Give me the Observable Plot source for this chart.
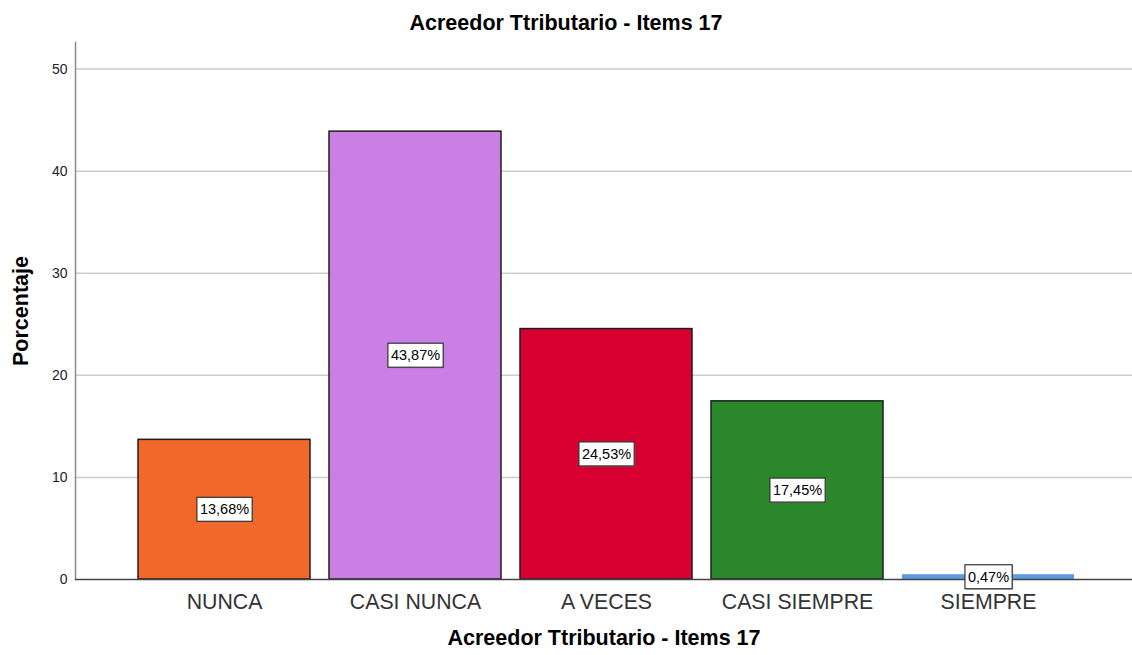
<!DOCTYPE html>
<html>
<head>
<meta charset="utf-8">
<script src="https://cdn.jsdelivr.net/npm/d3@7"></script>
<script src="https://cdn.jsdelivr.net/npm/@observablehq/plot@0.6"></script>
<style>
  html, body { margin: 0; padding: 0; background: #fff; }
  body { width: 1132px; height: 655px; overflow: hidden; font-family: "Liberation Sans", Arial, sans-serif; }
  #title { height: 40px; box-sizing: border-box; padding-top: 13px; line-height: 21px; font-size: 21.5px; font-weight: bold; text-align: center; color: #000; }
</style>
</head>
<body>
<div id="title"></div>
<div id="chart"></div>
<script>
const chartTitle = "Acreedor Ttributario - Items 17";
const xLabel = "Acreedor Ttributario - Items 17";
const yLabel = "Porcentaje";
const categories = ["NUNCA", "CASI NUNCA", "A VECES", "CASI SIEMPRE", "SIEMPRE"];
const values = [13.68, 43.87, 24.53, 17.45, 0.47];
const valueLabels = ["13,68%", "43,87%", "24,53%", "17,45%", "0,47%"];
const colors = ["#F2682B", "#C97FE3", "#D70030", "#2A872B", "#5B9BE3"];
const yTicks = [0, 10, 20, 30, 40, 50];

document.getElementById("title").textContent = chartTitle;

const data = categories.map((c, i) => ({cat: c, value: values[i], label: valueLabels[i]}));

const plot = Plot.plot({
  width: 1132,
  height: 615,
  marginTop: 2,
  marginLeft: 75,
  marginRight: 0,
  marginBottom: 76,
  style: {fontFamily: "'Liberation Sans', Arial, sans-serif", background: "#fff"},
  x: {domain: categories, paddingInner: 0.1, paddingOuter: 0.317, align: 0.52, label: null},
  y: {domain: [0, 52.6], label: null},
  color: {domain: categories, range: colors},
  marks: [
    Plot.gridY(yTicks.filter(t => t > 0), {stroke: "#cccccc", strokeOpacity: 1, strokeWidth: 1.5}),
    Plot.frame({anchor: "left", stroke: "#8c8c8c", strokeWidth: 1.5}),
    Plot.barY(data, {x: "cat", y: "value", fill: "cat", stroke: d => d.value < 1 ? "none" : "#1e1e1e", strokeWidth: 1.5}),
    Plot.ruleY([0], {stroke: "#444", strokeWidth: 1.5}),
    Plot.axisY({ticks: yTicks, tickSize: 0, tickPadding: 8, fontSize: 14, fill: "#222", label: null}),
    Plot.axisX({tickSize: 0, tickPadding: 14, fontSize: 21.3, fill: "#333", label: null}),
    Plot.text(data, {x: "cat", y: d => d.value / 2, text: "label", fontSize: 14.5, fill: "#000", className: "vlabel"}),
    Plot.text([xLabel], {frameAnchor: "bottom", dy: 65.5, fontSize: 21.5, fontWeight: "bold", fill: "#000"}),
    Plot.text([yLabel], {frameAnchor: "left", rotate: -90, dx: -54, textAnchor: "middle", fontSize: 21.5, fontWeight: "bold", fill: "#000"})
  ]
});
document.getElementById("chart").appendChild(plot);

// white label boxes behind value labels
const svgNS = "http://www.w3.org/2000/svg";
plot.querySelectorAll("g.vlabel text, .vlabel text").forEach(t => {
  const bb = t.getBBox();
  const tr = t.getAttribute("transform");
  const padX = 3, padY = 4;
  const sh = document.createElementNS(svgNS, "rect");
  sh.setAttribute("x", bb.x - padX + 1);
  sh.setAttribute("y", bb.y - padY + 1);
  sh.setAttribute("width", bb.width + 2 * padX);
  sh.setAttribute("height", bb.height + 2 * padY);
  sh.setAttribute("fill", "#888");
  sh.setAttribute("fill-opacity", "0.6");
  const r = document.createElementNS(svgNS, "rect");
  r.setAttribute("x", bb.x - padX);
  r.setAttribute("y", bb.y - padY);
  r.setAttribute("width", bb.width + 2 * padX);
  r.setAttribute("height", bb.height + 2 * padY);
  r.setAttribute("fill", "#fff");
  r.setAttribute("stroke", "#333");
  r.setAttribute("stroke-width", "1.2");
  if (tr) { sh.setAttribute("transform", tr); r.setAttribute("transform", tr); }
  t.parentNode.insertBefore(sh, t);
  t.parentNode.insertBefore(r, t);
});
</script>
</body>
</html>
